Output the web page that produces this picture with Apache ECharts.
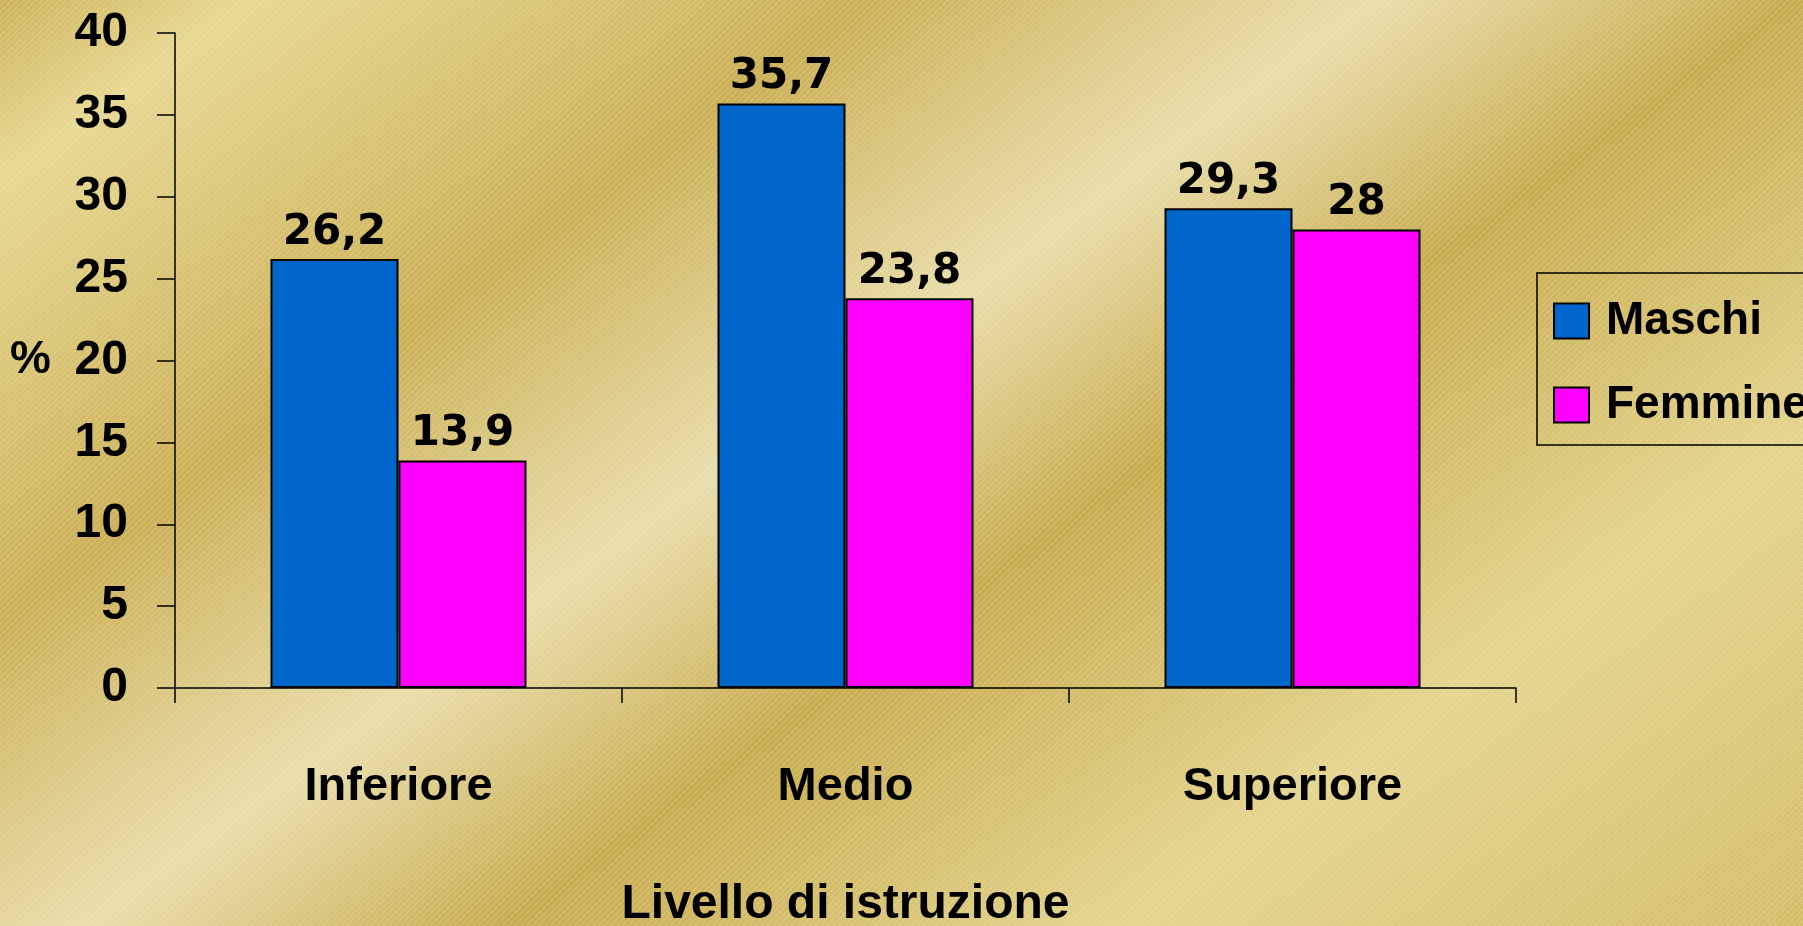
<!DOCTYPE html>
<html>
<head>
<meta charset="utf-8">
<title>Livello di istruzione</title>
<script src="https://cdn.jsdelivr.net/npm/echarts@6/dist/echarts.min.js"></script>
<style>
    html, body { margin: 0; padding: 0; }
    #chart { width: 1803px; height: 926px; }
</style>
</head>
<body>
<div id="chart"></div>
<script>
var categories = ["Inferiore", "Medio", "Superiore"];
var maschi = [26.2, 35.7, 29.3];
var femmine = [13.9, 23.8, 28];
var yTicks = { min: 0, max: 40, interval: 5 };

// tessitura a righe diagonali chiare
function stripeTile() {
    var c = document.createElement("canvas");
    c.width = 6;
    c.height = 6;
    var ctx = c.getContext("2d");
    ctx.strokeStyle = "rgba(255,255,255,0.22)";
    ctx.lineWidth = 1;
    ctx.beginPath();
    ctx.moveTo(0, 6); ctx.lineTo(6, 0);
    ctx.moveTo(-3, 3); ctx.lineTo(3, -3);
    ctx.moveTo(3, 9); ctx.lineTo(9, 3);
    ctx.stroke();
    return c;
}

function fmt(p) {
    return String(p.value).replace(".", ",");
}

var chart = echarts.init(document.getElementById("chart"));
var font = "Liberation Sans";
var labelFont = "DejaVu Sans";

var barLabel = {
    show: true,
    position: "top",
    distance: 5,
    formatter: fmt,
    fontFamily: labelFont,
    fontWeight: "bold",
    fontSize: 42,
    color: "#000"
};

chart.setOption({
    animation: false,
    graphic: [
        {
            type: "rect",
            z: -20,
            silent: true,
            shape: { x: 0, y: 0, width: 1803, height: 926 },
            style: {
                fill: new echarts.graphic.LinearGradient(0, 0, 0.582, 1.583, [
                    { offset: 0, color: "#CDB35C" },
                    { offset: 0.08, color: "#E7D892" },
                    { offset: 0.28, color: "#CBB057" },
                    { offset: 0.445, color: "#E9DEAB" },
                    { offset: 0.58, color: "#C8AC50" },
                    { offset: 0.78, color: "#E4D58F" },
                    { offset: 1, color: "#D4BE6A" }
                ])
            }
        },
        {
            type: "rect",
            z: -19,
            silent: true,
            shape: { x: 0, y: 0, width: 1803, height: 926 },
            style: { fill: { image: stripeTile(), repeat: "repeat" } }
        }
    ],
    grid: {
        left: 175,
        right: 287,
        top: 33,
        bottom: 238,
        outerBoundsMode: "none"
    },
    legend: {
        orient: "vertical",
        left: 1537,
        top: 273,
        padding: [25, 40, 17, 16],
        borderColor: "#000",
        borderWidth: 1.5,
        itemWidth: 35,
        itemHeight: 35,
        itemGap: 38,
        icon: "rect",
        textStyle: {
            fontFamily: font,
            fontWeight: "bold",
            fontSize: 46,
            color: "#000",
            padding: [0, 0, 0, 12]
        },
        data: ["Maschi", "Femmine"]
    },
    xAxis: {
        type: "category",
        data: categories,
        name: "Livello di istruzione",
        nameLocation: "middle",
        nameGap: 193,
        nameTextStyle: { fontFamily: font, fontWeight: "bold", fontSize: 48, color: "#000" },
        axisLine: { lineStyle: { color: "#000", width: 1.5 } },
        axisTick: {
            show: true,
            alignWithLabel: false,
            interval: 0,
            length: 15,
            lineStyle: { color: "#000", width: 1.5 }
        },
        axisLabel: { margin: 76, fontFamily: font, fontWeight: "bold", fontSize: 47, color: "#000" }
    },
    yAxis: {
        type: "value",
        min: yTicks.min,
        max: yTicks.max,
        interval: yTicks.interval,
        name: "%",
        nameLocation: "middle",
        nameRotate: 0,
        nameGap: 124,
        nameTextStyle: { fontFamily: font, fontWeight: "bold", fontSize: 46, color: "#000" },
        splitLine: { show: false },
        axisLine: { show: true, lineStyle: { color: "#000", width: 1.5 } },
        axisTick: { show: true, length: 18, lineStyle: { color: "#000", width: 1.5 } },
        axisLabel: { margin: 47, fontFamily: font, fontWeight: "bold", fontSize: 48, color: "#000" }
    },
    series: [
        {
            name: "Maschi",
            type: "bar",
            data: maschi,
            barWidth: 128,
            barGap: "0%",
            itemStyle: { color: "#0066CC", borderColor: "#000", borderWidth: 2 },
            label: barLabel
        },
        {
            name: "Femmine",
            type: "bar",
            data: femmine,
            barWidth: 128,
            barGap: "0%",
            itemStyle: { color: "#FF00FF", borderColor: "#000", borderWidth: 2 },
            label: barLabel
        }
    ]
});
</script>
</body>
</html>
